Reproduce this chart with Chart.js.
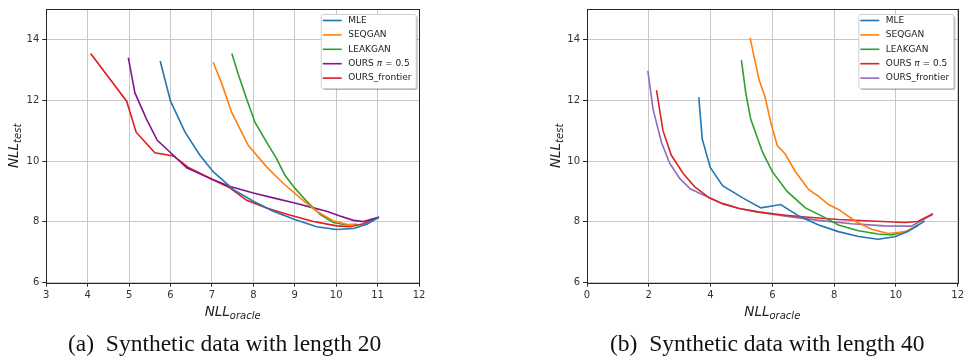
<!DOCTYPE html>
<html lang="en">
<head>
<meta charset="UTF-8">
<title>NLL oracle vs NLL test</title>
<script src="https://cdn.jsdelivr.net/npm/chart.js"></script>
<style>
  body { margin: 0; background: #fff; }
  .panel { position: absolute; top: 0; }
  .caption { position: absolute; top: 331px; line-height: 24px; font-family: "Liberation Serif", serif; font-size: 23.5px; color: #111; white-space: nowrap; }
</style>
</head>
<body>
<canvas id="chartLen20" class="panel" width="483" height="358" style="left:0"></canvas>
<canvas id="chartLen40" class="panel" width="484" height="358" style="left:483px"></canvas>
<div class="caption" style="left:68px">(a)&nbsp; Synthetic data with length 20</div>
<div class="caption" style="left:610px">(b)&nbsp; Synthetic data with length 40</div>
<script>
// ---- data, length 20 ----
var mle20X = [5.75, 6.0, 6.35, 6.71, 7.03, 7.52, 8.0, 8.48, 9.0, 9.53, 10.01, 10.42, 10.74, 11.02];
var mle20Y = [13.29, 11.97, 10.95, 10.19, 9.65, 9.06, 8.68, 8.35, 8.08, 7.84, 7.75, 7.78, 7.92, 8.14];
var seqgan20X = [7.03, 7.23, 7.48, 7.88, 8.32, 8.72, 9.13, 9.53, 9.93, 10.25, 10.45];
var seqgan20Y = [13.25, 12.57, 11.59, 10.51, 9.81, 9.27, 8.79, 8.35, 8.03, 7.92, 7.9];
var leakgan20X = [7.48, 7.64, 7.84, 8.04, 8.32, 8.56, 8.76, 9.0, 9.29, 9.61, 9.93, 10.25, 10.5];
var leakgan20Y = [13.54, 12.84, 12.03, 11.27, 10.62, 10.08, 9.54, 9.11, 8.68, 8.25, 7.98, 7.9, 7.92];
var ours20X = [4.98, 5.14, 5.42, 5.68, 6.03, 6.39, 7.0, 7.44, 8.0, 8.48, 9.0, 9.45, 9.77, 10.09, 10.42, 10.66, 11.04];
var ours20Y = [13.4, 12.24, 11.38, 10.68, 10.24, 9.78, 9.40, 9.16, 8.95, 8.79, 8.62, 8.46, 8.35, 8.19, 8.05, 8.01, 8.16];
var frontier20X = [4.07, 4.94, 5.17, 5.62, 6.07, 6.43, 7.0, 7.44, 7.84, 8.32, 8.81, 9.45, 10.01, 10.34, 10.66, 11.02];
var frontier20Y = [13.54, 11.97, 10.95, 10.27, 10.17, 9.79, 9.40, 9.11, 8.71, 8.46, 8.25, 8.01, 7.87, 7.84, 7.94, 8.14];

// ---- data, length 40 ----
var mle40X = [3.62, 3.73, 3.99, 4.39, 5.04, 5.63, 6.27, 6.86, 7.5, 8.14, 8.79, 9.43, 9.96, 10.39, 10.93];
var mle40Y = [12.1, 10.73, 9.79, 9.19, 8.79, 8.46, 8.57, 8.19, 7.9, 7.68, 7.52, 7.43, 7.51, 7.68, 8.03];
var seqgan40X = [5.28, 5.57, 5.76, 5.95, 6.16, 6.41, 6.75, 7.18, 7.5, 7.82, 8.14, 8.68, 9.21, 9.75, 10.29, 10.71];
var seqgan40Y = [14.05, 12.67, 12.13, 11.27, 10.51, 10.24, 9.65, 9.06, 8.84, 8.57, 8.41, 8.03, 7.76, 7.62, 7.67, 7.87];
var leakgan40X = [5.0, 5.14, 5.30, 5.68, 6.0, 6.48, 7.07, 7.61, 8.14, 8.79, 9.43, 9.86, 10.39, 10.71];
var leakgan40Y = [13.32, 12.24, 11.38, 10.3, 9.65, 9.0, 8.46, 8.19, 7.9, 7.71, 7.6, 7.57, 7.71, 7.9];
var ours40X = [2.25, 2.46, 2.73, 3.11, 3.48, 3.96, 4.39, 4.93, 5.57, 6.43, 7.07, 8.14, 9.21, 10.29, 10.71, 11.2];
var ours40Y = [12.33, 11.0, 10.19, 9.6, 9.16, 8.79, 8.6, 8.44, 8.32, 8.22, 8.16, 8.08, 8.03, 7.98, 8.01, 8.27];
var frontier40X = [1.97, 2.14, 2.41, 2.68, 3.0, 3.34, 3.96, 4.39, 4.93, 5.57, 6.43, 7.5, 8.57, 9.64, 10.5, 11.2];
var frontier40Y = [12.97, 11.7, 10.62, 9.92, 9.43, 9.09, 8.79, 8.6, 8.44, 8.32, 8.19, 8.05, 7.94, 7.87, 7.86, 8.25];

var labels20 = ['MLE', 'SEQGAN', 'LEAKGAN', 'OURS π = 0.5', 'OURS_frontier'];
var labels40 = ['MLE', 'SEQGAN', 'LEAKGAN', 'OURS π = 0.5', 'OURS_frontier'];
var xTicks20 = [3, 4, 5, 6, 7, 8, 9, 10, 11, 12];
var xTicks40 = [0, 2, 4, 6, 8, 10, 12];
var yTicks = [6, 8, 10, 12, 14];

var colors20 = ['#1f77b4', '#ff7f0e', '#2ca02c', '#85158f', '#e41a1c'];
var colors40 = ['#1f77b4', '#ff7f0e', '#2ca02c', '#d62728', '#9467bd'];

function pts(xs, ys) {
    return xs.map(function (x, i) { return { x: x, y: ys[i] }; });
}

function makeSets(series, labels, colors) {
    return series.map(function (s, i) {
        return {
            label: labels[i],
            data: pts(s[0], s[1]),
            showLine: true,
            borderColor: colors[i],
            backgroundColor: colors[i],
            borderWidth: 1.6,
            pointRadius: 0,
            tension: 0
        };
    });
}

// frame, axis titles and legend
var decoPlugin = {
    id: 'deco',
    afterDraw: function (chart) {
        var ctx = chart.ctx;
        var a = chart.chartArea;
        var o = chart.options.plugins.deco;
        var big = 'italic 13.5px "DejaVu Sans"', small = 'italic 10px "DejaVu Sans"';
        ctx.save();
        ctx.strokeStyle = '#262626';
        ctx.lineWidth = 1;
        ctx.strokeRect(Math.round(a.left) + 0.5, Math.round(a.top) + 0.5, Math.round(a.right - a.left), Math.round(a.bottom - a.top));

        // x title
        ctx.fillStyle = '#222';
        ctx.textBaseline = 'alphabetic';
        ctx.font = big;
        var w1 = ctx.measureText('NLL').width;
        ctx.font = small;
        var w2 = ctx.measureText('oracle').width;
        var cx = (a.left + a.right) / 2 - (w1 + w2) / 2;
        ctx.font = big;
        ctx.fillText('NLL', cx, 316);
        ctx.font = small;
        ctx.fillText('oracle', cx + w1, 319);

        // y title
        ctx.save();
        ctx.translate(o.yTitleX, (a.top + a.bottom) / 2);
        ctx.rotate(-Math.PI / 2);
        ctx.font = big;
        w1 = ctx.measureText('NLL').width;
        ctx.font = small;
        w2 = ctx.measureText('test').width;
        ctx.font = big;
        ctx.fillText('NLL', -(w1 + w2) / 2, 0);
        ctx.font = small;
        ctx.fillText('test', -(w1 + w2) / 2 + w1, 3);
        ctx.restore();

        // legend
        var bw = 95, bh = 74;
        var bx = a.right - o.legendGap - bw, by = a.top + 5;
        ctx.fillStyle = 'rgba(0,0,0,0.28)';
        ctx.beginPath();
        ctx.roundRect(bx + 2, by + 2, bw, bh, 2);
        ctx.fill();
        ctx.fillStyle = '#fff';
        ctx.strokeStyle = '#d0d0d0';
        ctx.beginPath();
        ctx.roundRect(bx + 0.5, by + 0.5, bw, bh, 2);
        ctx.fill();
        ctx.stroke();
        ctx.textBaseline = 'middle';
        chart.data.datasets.forEach(function (ds, i) {
            var ry = by + 6.5 + i * 14.4;
            ctx.strokeStyle = ds.borderColor;
            ctx.lineWidth = 1.6;
            ctx.beginPath();
            ctx.moveTo(bx + 2, ry);
            ctx.lineTo(bx + 21, ry);
            ctx.stroke();
            ctx.fillStyle = '#222';
            var tx = bx + 27.5;
            var parts = ds.label.split('π');
            ctx.font = '9px "DejaVu Sans"';
            ctx.fillText(parts[0], tx, ry);
            if (parts.length > 1) {
                tx += ctx.measureText(parts[0]).width;
                ctx.font = 'italic 9px "DejaVu Sans"';
                ctx.fillText('π', tx, ry);
                tx += ctx.measureText('π').width;
                ctx.font = '9px "DejaVu Sans"';
                ctx.fillText(parts[1], tx, ry);
            }
        });
        ctx.restore();
    }
};

function makeChart(id, datasets, xMin, xMax, xTicks, cfg) {
    var tickFont = { family: 'DejaVu Sans', size: 10 };
    new Chart(document.getElementById(id), {
        type: 'scatter',
        data: { datasets: datasets },
        options: {
            responsive: false,
            animation: false,
            layout: { padding: { left: 0, right: cfg.padRight, top: 5, bottom: 45.3 } },
            plugins: {
                legend: { display: false },
                tooltip: { enabled: false },
                deco: { yTitleX: cfg.yTitleX, legendGap: cfg.legendGap }
            },
            scales: {
                x: {
                    type: 'linear', min: xMin, max: xMax,
                    afterFit: function (s) { s.height = 30; },
                    afterBuildTicks: function (s) { s.ticks = xTicks.map(function (v) { return { value: v }; }); },
                    grid: { color: '#c8c8c8', lineWidth: 1, tickColor: '#262626', tickLength: 4 },
                    border: { display: false },
                    ticks: { font: tickFont, color: '#333', padding: 3, maxRotation: 0 }
                },
                y: {
                    type: 'linear', min: 6, max: 15,
                    afterFit: function (s) { s.width = cfg.yWidth; },
                    afterBuildTicks: function (s) { s.ticks = yTicks.map(function (v) { return { value: v }; }); },
                    grid: { color: '#c8c8c8', lineWidth: 1, tickColor: '#262626', tickLength: 4 },
                    border: { display: false },
                    ticks: { font: tickFont, color: '#333', padding: 3 }
                }
            }
        },
        plugins: [decoPlugin]
    });
}

var sets20 = makeSets([[mle20X, mle20Y], [seqgan20X, seqgan20Y], [leakgan20X, leakgan20Y], [ours20X, ours20Y], [frontier20X, frontier20Y]], labels20, colors20);
var sets40 = makeSets([[mle40X, mle40Y], [seqgan40X, seqgan40Y], [leakgan40X, leakgan40Y], [ours40X, ours40Y], [frontier40X, frontier40Y]], labels40, colors40);

makeChart('chartLen20', sets20, 3, 12, xTicks20, { padRight: 64, yWidth: 46.3, yTitleX: 18, legendGap: 3.3 });
makeChart('chartLen40', sets40, 0, 12, xTicks40, { padRight: 6.7, yWidth: 104, yTitleX: 77, legendGap: 4.3 });
</script>
</body>
</html>
